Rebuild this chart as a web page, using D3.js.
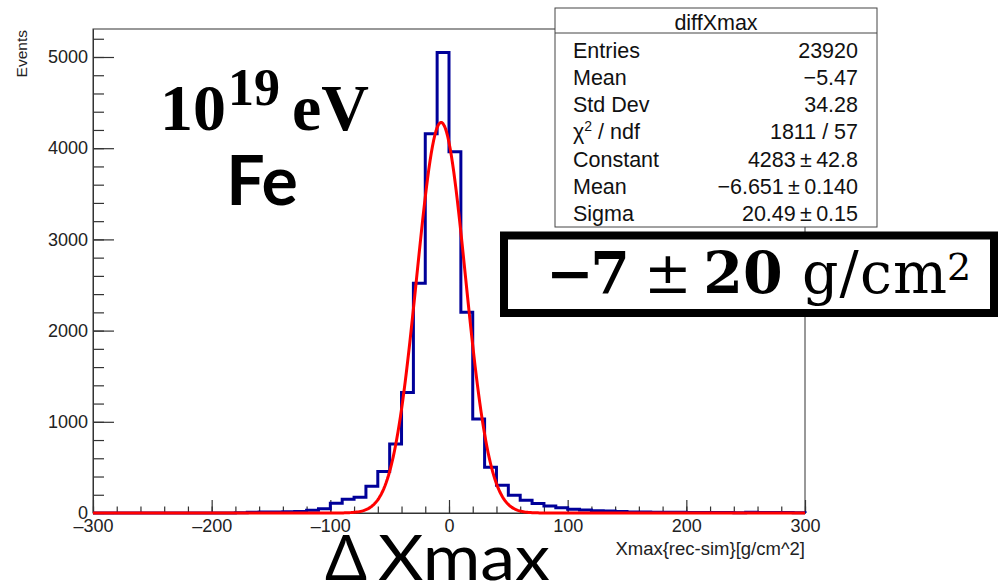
<!DOCTYPE html>
<html>
<head>
<meta charset="utf-8">
<script src="https://cdn.jsdelivr.net/npm/d3@7"></script>
<style>
  html, body { margin: 0; padding: 0; background: #fff; }
  svg { display: block; }
</style>
</head>
<body>
<svg id="chart" width="1000" height="584"></svg>
<script>
// Histogram of Xmax(rec) - Xmax(sim): 60 bins of 10 g/cm^2 from -300 to 300
const binLow = d3.range(-300, 300, 10);
const binCounts = [
  0, 0, 0, 0, 0, 0, 0, 0, 0, 0,
  0, 1, 3, 9, 11, 12, 14, 17, 30, 46,
  108, 150, 172, 292, 456, 757, 1322, 2518, 4158, 5048,
  3962, 2200, 1031, 501, 303, 196, 141, 105, 77, 58,
  42, 33, 26, 21, 16, 12, 10, 9, 8, 7,
  6, 6, 5, 5, 4, 7, 6, 5, 5, 3
];
const xTicksMajor = [-300, -200, -100, 0, 100, 200, 300];
const yTicksMajor = [0, 1000, 2000, 3000, 4000, 5000];

// Gaussian fit parameters (as reported in the stats box)
const fitConstant = 4283;
const fitMean = -6.651;
const fitSigma = 20.49;

// Stats box rows
const statsTitle = "diffXmax";
const statsLabels = ["Entries", "Mean", "Std Dev", "χ2 / ndf", "Constant", "Mean", "Sigma"];
const statsValues = ["23920", "\u22125.47", "34.28", "1811 / 57", "4283\u2009\u00b1\u200942.8", "\u22126.651\u2009\u00b1\u20090.140", "20.49\u2009\u00b1\u20090.15"];

const svg = d3.select("#chart");
const frame = { left: 93, right: 805, top: 29, bottom: 513 };

const x = d3.scaleLinear().domain([-300, 300]).range([frame.left, frame.right]);
const y = d3.scaleLinear().domain([0, 5307]).range([frame.bottom, frame.top]);

const axisFont = "'Liberation Sans', Arial, Helvetica, sans-serif";
const axisColor = "#333";
const fmt = v => (v < 0 ? "\u2013" + Math.abs(v) : String(v));

// frame
svg.append("rect")
  .attr("x", frame.left).attr("y", frame.top)
  .attr("width", frame.right - frame.left).attr("height", frame.bottom - frame.top)
  .attr("fill", "none").attr("stroke", axisColor).attr("stroke-width", 1);

// x axis: minor ticks then major ticks with labels
const gxMinor = svg.append("g").attr("transform", `translate(0,${frame.bottom})`)
  .call(d3.axisBottom(x).tickValues(d3.range(-300, 301, 20)).tickSizeInner(-6.5).tickSizeOuter(0).tickFormat(""));
const gx = svg.append("g").attr("transform", `translate(0,${frame.bottom})`)
  .call(d3.axisBottom(x).tickValues(xTicksMajor).tickSizeInner(-13).tickSizeOuter(0).tickPadding(6).tickFormat(fmt));

// y axis
const gyMinor = svg.append("g").attr("transform", `translate(${frame.left},0)`)
  .call(d3.axisLeft(y).tickValues(d3.range(0, 5301, 200)).tickSizeInner(-11).tickSizeOuter(0).tickFormat(""));
const gy = svg.append("g").attr("transform", `translate(${frame.left},0)`)
  .call(d3.axisLeft(y).tickValues(yTicksMajor).tickSizeInner(-21).tickSizeOuter(0).tickPadding(5).tickFormat(d3.format("d")));

[gxMinor, gx, gyMinor, gy].forEach(g => {
  g.select(".domain").attr("stroke", axisColor);
  g.selectAll(".tick line").attr("stroke", axisColor).attr("stroke-width", 1.2);
  g.selectAll(".tick text").attr("fill", "#222").style("font-family", axisFont).style("font-size", "18px");
});

// axis titles
svg.append("text")
  .attr("x", frame.right).attr("y", 555)
  .attr("text-anchor", "end")
  .style("font-family", axisFont).style("font-size", "18.5px").attr("fill", "#222")
  .text("Xmax{rec-sim}[g/cm^2]");
svg.append("text")
  .attr("transform", "translate(27,30) rotate(-90)")
  .attr("text-anchor", "end")
  .style("font-family", axisFont).style("font-size", "15.5px").attr("fill", "#222")
  .text("Events");

// histogram outline
const pts = [{ x: -300, v: 0 }]
  .concat(binLow.map((lo, i) => ({ x: lo, v: binCounts[i] })))
  .concat([{ x: 300, v: binCounts[binCounts.length - 1] }, { x: 300, v: 0 }]);
const histLine = d3.line().x(d => x(d.x)).y(d => y(d.v)).curve(d3.curveStepAfter);
svg.append("path")
  .attr("d", histLine(pts))
  .attr("fill", "none").attr("stroke", "#000099").attr("stroke-width", 3)
  .attr("stroke-linejoin", "miter");

// fitted gaussian
const gauss = t => fitConstant * Math.exp(-0.5 * Math.pow((t - fitMean) / fitSigma, 2));
const fitPts = d3.range(-300, 300.001, 1).map(t => [t, gauss(t)]);
svg.append("path")
  .attr("d", d3.line().x(d => x(d[0])).y(d => y(d[1]))(fitPts))
  .attr("fill", "none").attr("stroke", "#ff0000").attr("stroke-width", 3)
  .attr("stroke-linejoin", "round");

// stats box
const sb = { x: 555, y: 8, w: 322, h: 219 };
svg.append("rect")
  .attr("x", sb.x).attr("y", sb.y).attr("width", sb.w).attr("height", sb.h)
  .attr("fill", "#fff").attr("stroke", "#444").attr("stroke-width", 1);
svg.append("line")
  .attr("x1", sb.x).attr("x2", sb.x + sb.w).attr("y1", 33).attr("y2", 33)
  .attr("stroke", "#444").attr("stroke-width", 1);
const statsFont = { family: axisFont, size: "21.5px" };
svg.append("text")
  .attr("x", sb.x + sb.w / 2).attr("y", 29.5).attr("text-anchor", "middle")
  .style("font-family", statsFont.family).style("font-size", statsFont.size).attr("fill", "#111")
  .text(statsTitle);
const rowBase = [57.5, 85, 111.5, 139, 167, 194, 220.5];
statsLabels.forEach((lab, i) => {
  const t = svg.append("text")
    .attr("x", 573).attr("y", rowBase[i])
    .style("font-family", statsFont.family).style("font-size", statsFont.size).attr("fill", "#111");
  if (lab.startsWith("χ2")) {
    t.append("tspan").text("χ");
    t.append("tspan").attr("dy", -8).style("font-size", "14px").text("2");
    t.append("tspan").attr("dy", 8).text(" / ndf");
  } else {
    t.text(lab);
  }
  svg.append("text")
    .attr("x", 858).attr("y", rowBase[i]).attr("text-anchor", "end")
    .style("font-family", statsFont.family).style("font-size", statsFont.size).attr("fill", "#111")
    .text(statsValues[i]);
});

// result box
svg.append("rect")
  .attr("x", 504).attr("y", 235.5).attr("width", 490).attr("height", 77.5)
  .attr("fill", "#fff").attr("stroke", "#000").attr("stroke-width", 8);
const mathFont = "'DejaVu Serif', 'Liberation Serif', serif";
const res = svg.append("g").style("font-family", mathFont).attr("fill", "#000");
res.append("text").attr("x", 570).attr("y", 293).attr("text-anchor", "middle")
  .style("font-size", "57px").style("font-weight", "bold").text("\u2212");
res.append("text").attr("x", 610).attr("y", 293).attr("text-anchor", "middle")
  .style("font-size", "57px").style("font-weight", "bold").text("7");
res.append("text").attr("x", 668).attr("y", 293).attr("text-anchor", "middle")
  .style("font-size", "57px").text("\u00b1");
res.append("text").attr("x", 743).attr("y", 293).attr("text-anchor", "middle")
  .style("font-size", "57px").style("font-weight", "bold").text("20");
res.append("text").attr("x", 802).attr("y", 293).attr("text-anchor", "start")
  .style("font-size", "57px").attr("textLength", 145).attr("lengthAdjust", "spacing").text("g/cm");
res.append("text").attr("x", 959).attr("y", 280).attr("text-anchor", "middle")
  .style("font-size", "38px").text("2");

// energy and primary labels
const energy = svg.append("g").style("font-family", "'Liberation Serif', 'Times New Roman', serif")
  .style("font-weight", "bold").attr("fill", "#000");
energy.append("text").attr("x", 160).attr("y", 130).style("font-size", "66px").text("10");
energy.append("text").attr("x", 228).attr("y", 105).style("font-size", "52px").text("19");
energy.append("text").attr("x", 292).attr("y", 130).style("font-size", "66px").text("eV");

svg.append("text").attr("x", 262).attr("y", 205).attr("text-anchor", "middle")
  .style("font-family", "Lato, 'Open Sans', sans-serif").style("font-weight", "bold")
  .style("font-size", "68px").attr("fill", "#000").text("Fe");

// quantity label under the axis
const dq = svg.append("g").style("font-family", "Lato, 'Open Sans', sans-serif").attr("fill", "#000");
dq.append("text").attr("x", 346).attr("y", 580).attr("text-anchor", "middle")
  .style("font-size", "62px").text("\u0394");
dq.append("text").attr("x", 378).attr("y", 580)
  .style("font-size", "62px").attr("textLength", 172).attr("lengthAdjust", "spacingAndGlyphs").text("Xmax");
</script>
</body>
</html>
